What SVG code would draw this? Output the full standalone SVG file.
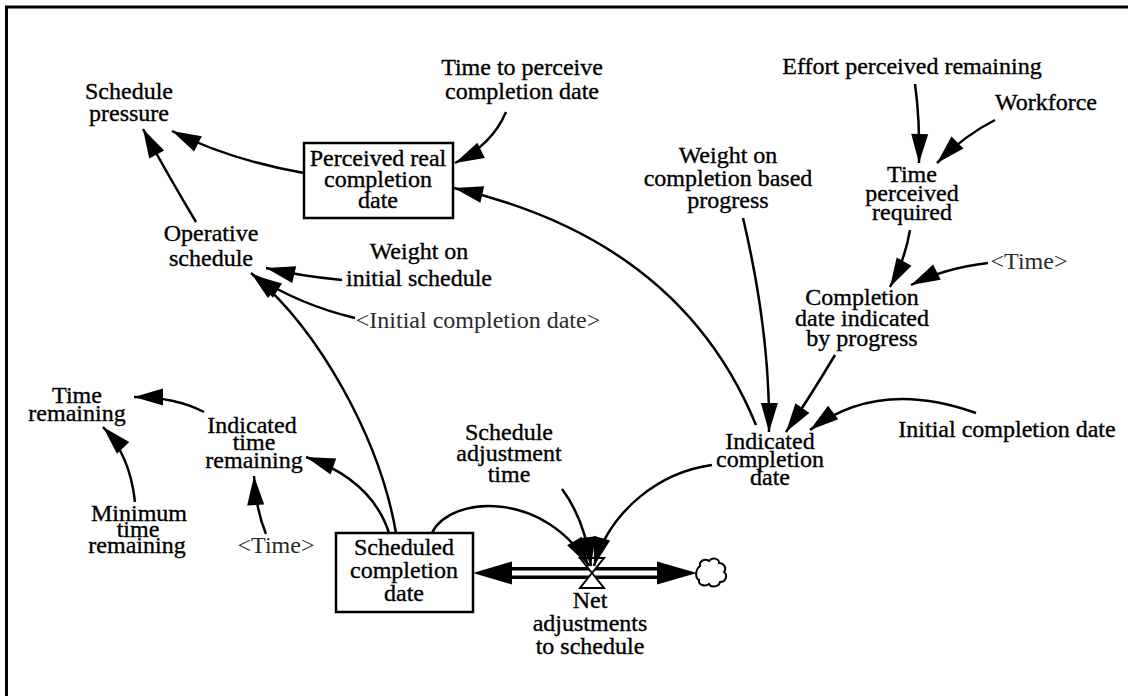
<svg xmlns="http://www.w3.org/2000/svg" width="1128" height="696" viewBox="0 0 1128 696">
  <defs>
    <style>
      text { font-family: "Liberation Serif", "Times New Roman", serif; font-size: 24px; fill: #000; stroke: #000; stroke-width: 0.35px; text-anchor: middle; }
      text.shadow { fill: #2a2a2a; stroke: none; }
      .link { fill: none; stroke: #000; stroke-width: 2.5; marker-end: url(#head); }
      .box { fill: #fff; stroke: #000; stroke-width: 2.5; }
      .frame { fill: none; stroke: #000; stroke-width: 3; }
    </style>
    <marker id="head" markerUnits="userSpaceOnUse" markerWidth="32" markerHeight="20" viewBox="-31 -10 32 20" refX="0" refY="0" orient="auto">
      <path d="M0,0 L-29,-8.5 L-29,8.5 Z" fill="#000"/>
    </marker>
  </defs>

  <rect width="1128" height="696" fill="#fff"/>

  <!-- page frame (top and left edges only) -->
  <path class="frame" d="M5,7 H1128 M6.5,6 V696"/>

  <!-- variables -->
  <g id="schedule_pressure">
    <text x="129" y="99">Schedule</text>
    <text x="129" y="121">pressure</text>
  </g>
  <g id="time_to_perceive_completion_date">
    <text x="522" y="75">Time to perceive</text>
    <text x="522" y="99">completion date</text>
  </g>
  <g id="perceived_real_completion_date">
    <rect class="box" x="304" y="143" width="149" height="75"/>
    <text x="378" y="166">Perceived real</text>
    <text x="378" y="187">completion</text>
    <text x="378" y="208">date</text>
  </g>
  <g id="operative_schedule">
    <text x="211" y="241">Operative</text>
    <text x="211" y="266">schedule</text>
  </g>
  <g id="weight_on_initial_schedule">
    <text x="419" y="259">Weight on</text>
    <text x="419" y="286">initial schedule</text>
  </g>
  <g id="initial_completion_date_shadow">
    <text class="shadow" x="478" y="328">&lt;Initial completion date&gt;</text>
  </g>
  <g id="weight_on_completion_based_progress">
    <text x="728" y="163">Weight on</text>
    <text x="728" y="186">completion based</text>
    <text x="728" y="208">progress</text>
  </g>
  <g id="effort_perceived_remaining">
    <text x="912" y="74">Effort perceived remaining</text>
  </g>
  <g id="workforce">
    <text x="1046" y="110">Workforce</text>
  </g>
  <g id="time_perceived_required">
    <text x="912" y="182">Time</text>
    <text x="912" y="201">perceived</text>
    <text x="912" y="220">required</text>
  </g>
  <g id="time_shadow_right">
    <text class="shadow" x="1029" y="269">&lt;Time&gt;</text>
  </g>
  <g id="completion_date_indicated_by_progress">
    <text x="862" y="305">Completion</text>
    <text x="862" y="326">date indicated</text>
    <text x="862" y="346">by progress</text>
  </g>
  <g id="indicated_completion_date">
    <text x="770" y="449">Indicated</text>
    <text x="770" y="467">completion</text>
    <text x="770" y="485">date</text>
  </g>
  <g id="initial_completion_date">
    <text x="1007" y="437">Initial completion date</text>
  </g>
  <g id="time_remaining">
    <text x="77" y="403">Time</text>
    <text x="77" y="421">remaining</text>
  </g>
  <g id="indicated_time_remaining">
    <text x="252" y="433">Indicated</text>
    <text x="254" y="450">time</text>
    <text x="254" y="468">remaining</text>
  </g>
  <g id="minimum_time_remaining">
    <text x="139" y="521">Minimum</text>
    <text x="138" y="537">time</text>
    <text x="137" y="553">remaining</text>
  </g>
  <g id="time_shadow_left">
    <text class="shadow" x="276" y="553">&lt;Time&gt;</text>
  </g>
  <g id="scheduled_completion_date">
    <rect class="box" x="336" y="533" width="137" height="79"/>
    <text x="404" y="555">Scheduled</text>
    <text x="404" y="578">completion</text>
    <text x="404" y="601">date</text>
  </g>
  <g id="schedule_adjustment_time">
    <text x="509" y="440">Schedule</text>
    <text x="509" y="461">adjustment</text>
    <text x="509" y="482">time</text>
  </g>

  <!-- flow: pipe between the stock and the sink cloud -->
  <g id="flow_pipe">
    <line x1="500" y1="573" x2="670" y2="573" stroke="#000" stroke-width="12"/>
    <line x1="500" y1="573" x2="670" y2="573" stroke="#fff" stroke-width="5"/>
    <polygon points="473,573 512,561.5 512,584.5" fill="#000"/>
    <polygon points="697,573 657,561.5 657,584.5" fill="#000"/>
    <path d="M700,566 c-1,-5 5,-8 9,-5 c3,-4 10,-3 10,2 c5,0 8,5 5,9 c4,3 2,10 -4,10 c-1,5 -9,6 -11,2 c-4,3 -11,1 -10,-4 c-4,-2 -4,-10 1,-14 z" fill="#fff" stroke="#000" stroke-width="2"/>
  </g>
  <g id="net_adjustments_to_schedule">
    <polygon points="580,558 604,558 592,573" fill="#fff" stroke="#000" stroke-width="2"/>
    <polygon points="592,573 580,588 604,588" fill="#fff" stroke="#000" stroke-width="2"/>
    <text x="590" y="608">Net</text>
    <text x="590" y="631">adjustments</text>
    <text x="590" y="654">to schedule</text>
  </g>

  <!-- causal links -->
  <g id="connectors">
    <path class="link" d="M304,173 Q230,160 172,131"/>
    <path class="link" d="M506,112 Q492,145 455,163"/>
    <path class="link" d="M756,425 Q680,240 454,188"/>
    <path class="link" d="M196,222 Q165,170 143,129"/>
    <path class="link" d="M342,280 Q300,276 266,268"/>
    <path class="link" d="M355,318 Q300,305 253,275"/>
    <path class="link" d="M396,533 C380,440 320,330 251,273"/>
    <path class="link" d="M389,533 Q372,480 306,457"/>
    <path class="link" d="M266,534 Q256,510 254,476"/>
    <path class="link" d="M204,412 Q175,397 134,397"/>
    <path class="link" d="M135,502 Q130,455 103,427"/>
    <path class="link" d="M915,84 Q920,120 919,163"/>
    <path class="link" d="M995,120 Q965,135 937,163"/>
    <path class="link" d="M910,230 Q905,260 890,287"/>
    <path class="link" d="M988,263 Q945,268 911,285"/>
    <path class="link" d="M743,218 C760,290 770,360 769,432"/>
    <path class="link" d="M835,355 Q808,400 786,432"/>
    <path class="link" d="M976,413 Q879,378 810,430"/>
    <path class="link" d="M432,533 C450,495 545,490 589,566"/>
    <path class="link" d="M562,489 Q585,520 591,566"/>
    <path class="link" d="M712,465 C660,472 610,510 594,566"/>
  </g>
</svg>
